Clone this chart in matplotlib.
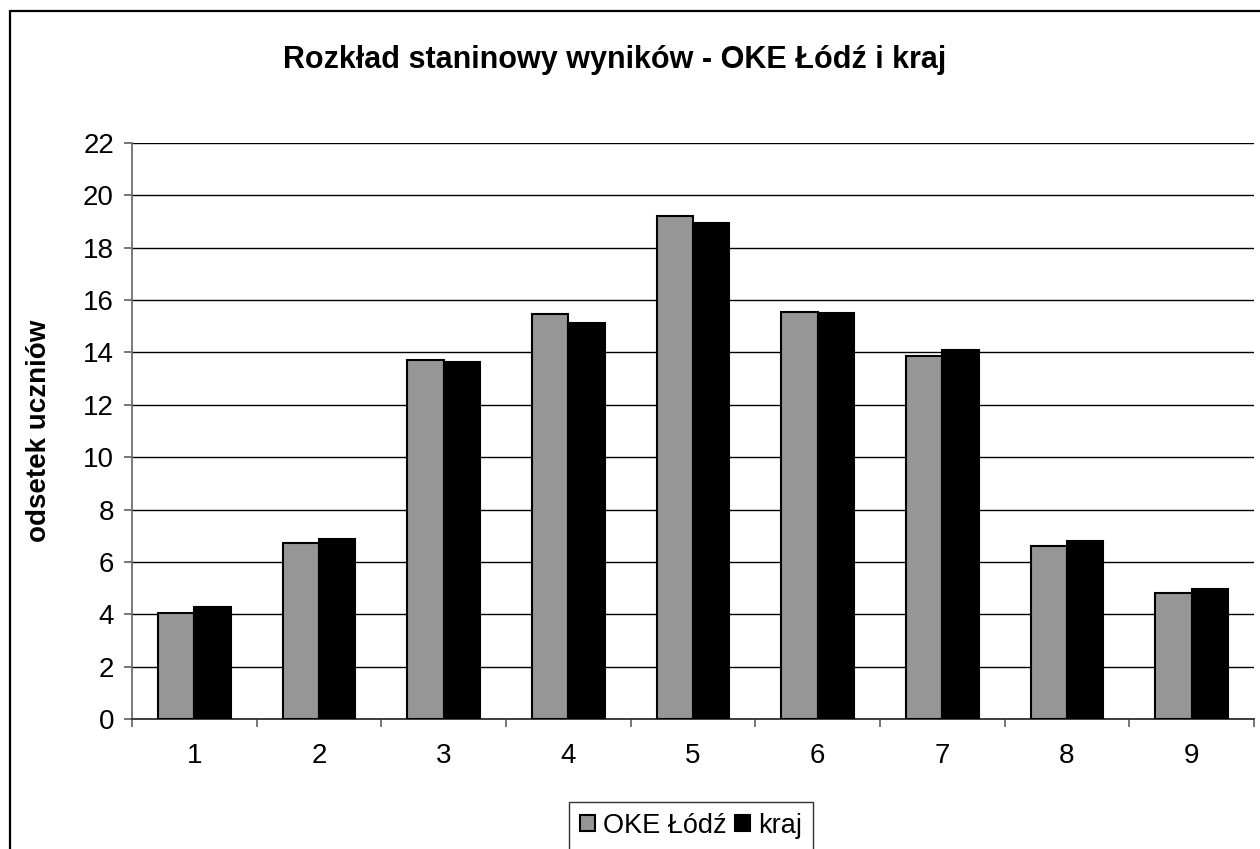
import numpy as np
import matplotlib
matplotlib.use('Agg')
import matplotlib.pyplot as plt
from matplotlib.patches import Rectangle

plt.rcParams['font.family'] = ['Liberation Sans', 'DejaVu Sans']

# dane
staniny = ['1', '2', '3', '4', '5', '6', '7', '8', '9']
oke_lodz = [4.07, 6.73, 13.70, 15.48, 19.20, 15.55, 13.85, 6.60, 4.81]
kraj = [4.30, 6.88, 13.64, 15.13, 18.92, 15.50, 14.08, 6.81, 4.97]
y_ticks = [0, 2, 4, 6, 8, 10, 12, 14, 16, 18, 20, 22]

W, H = 1260, 849
fig = plt.figure(figsize=(W / 100, H / 100), dpi=100)
ax = fig.add_axes([132 / W, 1 - 719.3 / H, (1254 - 132) / W, (719.3 - 142.7) / H])

# ramka calego wykresu (ucieta z prawej i od dolu)
fig.patches.append(Rectangle((9.5 / W, -0.1), 1.2, 1.1 - 10.5 / H,
                             transform=fig.transFigure, fill=False,
                             edgecolor='black', lw=1.6, zorder=0))

x = np.arange(1, len(staniny) + 1)
w = 0.291
ax.bar(x - w / 2, oke_lodz, w, color='#969696', edgecolor='black', lw=1.5,
       label='OKE Łódź', zorder=3)
ax.bar(x + w / 2, kraj, w, color='black', edgecolor='black', lw=1.5,
       label='kraj', zorder=3)

ax.set_xlim(0.5, len(staniny) + 0.5)
ax.set_ylim(0, 22)
ax.set_yticks(y_ticks)
ax.set_yticklabels([str(v) for v in y_ticks], fontsize=20)
ax.yaxis.grid(True, color='black', lw=1.0, zorder=0)

ax.set_xticks(np.arange(0.5, len(staniny) + 1, 1))
ax.set_xticklabels([])
ax.set_xticks(x, minor=True)
ax.set_xticklabels(staniny, minor=True, fontsize=20)
ax.tick_params(axis='x', which='minor', length=0, pad=17)
ax.tick_params(axis='x', which='major', length=6, width=1.2, color='#606060')
ax.tick_params(axis='y', length=6, width=1.2, color='#606060', pad=7)

for s in ['top', 'right']:
    ax.spines[s].set_visible(False)
ax.spines['left'].set_color('#707070')
ax.spines['left'].set_linewidth(1.3)
ax.spines['bottom'].set_color('#303030')
ax.spines['bottom'].set_linewidth(1.3)

ax.set_ylabel('odsetek uczniów', fontsize=20, fontweight='bold', labelpad=22)
fig.text(615 / W, 1 - 60 / H, 'Rozkład staninowy wyników - OKE Łódź i kraj',
         fontsize=22, fontweight='bold', ha='center', va='center')

leg = fig.legend(loc='upper center', bbox_to_anchor=(691 / W, 1 - 802 / H),
                 ncol=2, fontsize=19.5, frameon=True, fancybox=False,
                 handlelength=0.55, handleheight=0.55, handletextpad=0.3,
                 columnspacing=0.3, borderpad=0.4, borderaxespad=0)
leg.get_frame().set_edgecolor('black')
leg.get_frame().set_linewidth(1.0)

fig.savefig('out.png', dpi=100, facecolor='white')
